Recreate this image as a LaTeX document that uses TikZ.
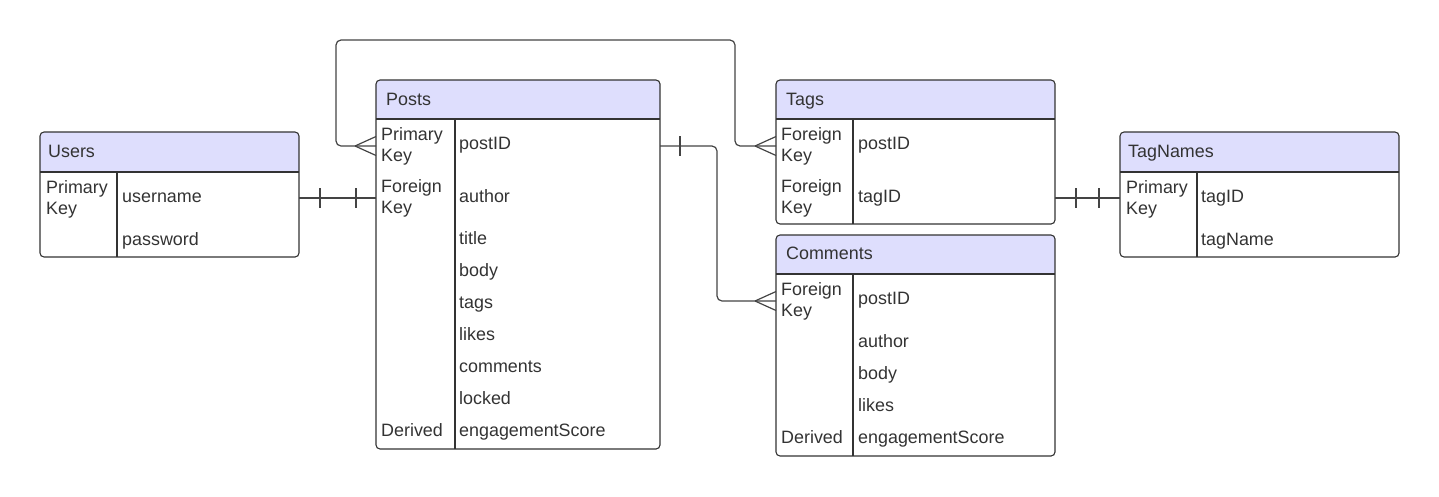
\documentclass[tikz,border=0pt]{standalone}
\usepackage{fontspec}
\setmainfont{Liberation Sans}
\usetikzlibrary{calc}
\definecolor{hdrcol}{HTML}{DEDEFD}
\definecolor{framecol}{HTML}{333333}
\definecolor{linkcol}{HTML}{444444}
\definecolor{txtcol}{HTML}{333333}
\tikzset{
  box/.style 2 args={anchor=north west, inner sep=0pt, outer sep=0pt, minimum width=#1, minimum height=#2},
  frame/.style={draw=framecol, line width=1.1pt, rounded corners=4pt},
  rule/.style={draw=framecol, line width=1.1pt},
  txt/.style={anchor=base west, inner sep=0pt, text=txtcol, font=\fontsize{17.9}{21}\selectfont},
  link/.style={draw=linkcol, line width=1.2pt, rounded corners=5pt},
  tick/.style={draw=linkcol, line width=1.2pt},
}
% #1 name, #2 x, #3 y, #4 width, #5 height, #6 header height, #7 divider offset
\newcommand\drawentity[7]{%
  \node[box={#4pt}{#5pt}] (#1) at (#2,#3) {};
  \begin{scope}
    \clip[rounded corners=4pt] (#1.north west) rectangle (#1.south east);
    \fill[hdrcol] (#1.north west) rectangle ([yshift=-#6pt]#1.north east);
  \end{scope}
  \draw[rule] ([yshift=-#6pt]#1.north west) -- ([yshift=-#6pt]#1.north east);
  \draw[rule] ([xshift=#7pt,yshift=-#6pt]#1.north west) -- ([xshift=#7pt]#1.south west);
  \draw[frame] (#1.north west) rectangle (#1.south east);
}
% crow's foot opening to the right, ending at the box edge point #1
\newcommand\crowfoot[1]{%
  \draw[tick] ([xshift=-21pt]#1) -- ([yshift=9.5pt]#1)
              ([xshift=-21pt]#1) -- ([yshift=-9.5pt]#1);
}
% vertical bar at horizontal offset #2 from point #1
\newcommand\onebar[2]{%
  \draw[tick] ([xshift=#2pt,yshift=10pt]#1) -- ([xshift=#2pt,yshift=-10pt]#1);
}
\begin{document}
\begin{tikzpicture}[x=1pt,y=-1pt]
\useasboundingbox (0,0) rectangle (1439,496);

\drawentity{users}{40}{132}{259}{125}{40}{77}
\drawentity{posts}{376}{80}{284}{369}{39}{79}
\drawentity{tags}{776}{80}{279}{144}{39}{77}
\drawentity{tagnames}{1120}{132}{279}{125}{40}{77}
\drawentity{comments}{776}{235}{279}{221}{39}{77}

% Users
\node[txt] (u-h) at (48,157) {Users};
\node[txt] (u-pk1) at (46,193) {Primary};
\node[txt] (u-pk2) at (46,214) {Key};
\node[txt] (u-f1) at (122,202) {username};
\node[txt] (u-f2) at (122,245) {password};

% Posts
\node[txt] (p-h) at (386,105) {Posts};
\node[txt] (p-pk1) at (381,140) {Primary};
\node[txt] (p-pk2) at (381,161) {Key};
\node[txt] (p-f1) at (459,149) {postID};
\node[txt] (p-fk1) at (381,192) {Foreign};
\node[txt] (p-fk2) at (381,213) {Key};
\node[txt] (p-f2) at (459,202) {author};
\node[txt] (p-f3) at (459,244) {title};
\node[txt] (p-f4) at (459,276) {body};
\node[txt] (p-f5) at (459,308) {tags};
\node[txt] (p-f6) at (459,340) {likes};
\node[txt] (p-f7) at (459,372) {comments};
\node[txt] (p-f8) at (459,404) {locked};
\node[txt] (p-d) at (381,436) {Derived};
\node[txt] (p-f9) at (459,436) {engagementScore};

% Tags
\node[txt] (t-h) at (786,105) {Tags};
\node[txt] (t-fk1) at (781,140) {Foreign};
\node[txt] (t-fk2) at (781,161) {Key};
\node[txt] (t-f1) at (858,149) {postID};
\node[txt] (t-fk3) at (781,192) {Foreign};
\node[txt] (t-fk4) at (781,213) {Key};
\node[txt] (t-f2) at (858,202) {tagID};

% TagNames
\node[txt] (n-h) at (1128,157) {TagNames};
\node[txt] (n-pk1) at (1126,193) {Primary};
\node[txt] (n-pk2) at (1126,214) {Key};
\node[txt] (n-f1) at (1201,202) {tagID};
\node[txt] (n-f2) at (1201,245) {tagName};

% Comments
\node[txt] (c-h) at (786,259) {Comments};
\node[txt] (c-fk1) at (781,295) {Foreign};
\node[txt] (c-fk2) at (781,316) {Key};
\node[txt] (c-f1) at (858,304) {postID};
\node[txt] (c-f2) at (858,347) {author};
\node[txt] (c-f3) at (858,379) {body};
\node[txt] (c-f4) at (858,411) {likes};
\node[txt] (c-d) at (781,443) {Derived};
\node[txt] (c-f5) at (858,443) {engagementScore};

% connector end points on the box edges
\coordinate (upA) at (users.east |- 0,198);
\coordinate (upB) at (posts.west |- 0,198);
\coordinate (ptA) at (posts.west |- 0,146);
\coordinate (ptB) at (tags.west |- 0,146);
\coordinate (pcA) at (posts.east |- 0,146);
\coordinate (pcB) at (comments.west |- 0,301);
\coordinate (tnA) at (tags.east |- 0,198);
\coordinate (tnB) at (tagnames.west |- 0,198);

% Users -- Posts (one to one)
\draw[link] (upA) -- (upB);
\onebar{upA}{21}
\onebar{upB}{-20}

% Posts -- Tags (many to many)
\draw[link] (ptA) -- (336,146) -- (336,40) -- (735,40) -- (735,146) -- (ptB);
\crowfoot{ptA}
\crowfoot{ptB}

% Posts -- Comments (one to many)
\draw[link] (pcA) -- (717,146) -- (717,301) -- (pcB);
\onebar{pcA}{20}
\crowfoot{pcB}

% Tags -- TagNames (one to one)
\draw[link] (tnA) -- (tnB);
\onebar{tnA}{21}
\onebar{tnB}{-21}
\end{tikzpicture}
\end{document}
